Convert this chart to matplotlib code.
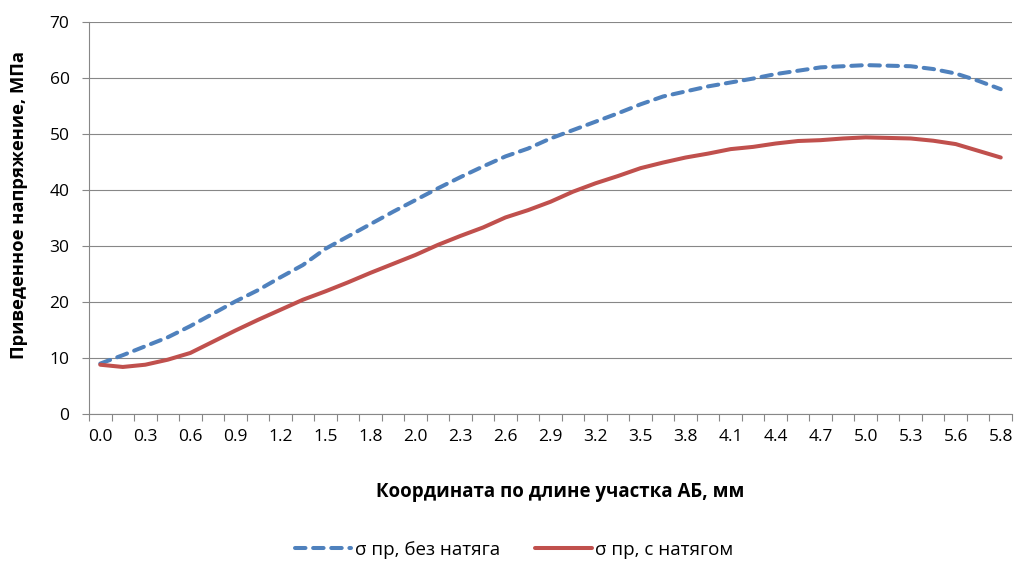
import matplotlib
matplotlib.use('Agg')
import matplotlib.pyplot as plt
import numpy as np

plt.rcParams['font.family'] = ['Open Sans', 'DejaVu Sans']

# координата по длине участка АБ (подписаны только чётные категории)
x_labels = ['0.0', '0.3', '0.6', '0.9', '1.2', '1.5', '1.8', '2.0', '2.3', '2.6', '2.9',
            '3.2', '3.5', '3.8', '4.1', '4.4', '4.7', '5.0', '5.3', '5.6', '5.8']

# приведенное напряжение, МПа
sigma_free = [9.0, 10.5, 12.1, 13.7, 15.7, 17.9, 20.1, 22.1, 24.4, 26.6, 29.5,
              31.7, 33.9, 36.1, 38.2, 40.3, 42.3, 44.2, 46.0, 47.4, 49.2,
              50.7, 52.2, 53.7, 55.3, 56.7, 57.6, 58.5, 59.2, 59.9, 60.7,
              61.3, 61.9, 62.1, 62.3, 62.2, 62.1, 61.6, 60.8, 59.5, 58.0]
sigma_fit = [8.8, 8.4, 8.8, 9.7, 10.9, 12.9, 14.9, 16.8, 18.6, 20.4, 21.9,
             23.5, 25.2, 26.8, 28.4, 30.2, 31.8, 33.3, 35.1, 36.4, 37.9,
             39.7, 41.2, 42.5, 43.9, 44.9, 45.8, 46.5, 47.3, 47.7, 48.3,
             48.75, 48.9, 49.2, 49.4, 49.3, 49.2, 48.8, 48.2, 47.0, 45.8]

series_names = ['σ пр, без натяга', 'σ пр, с натягом']

grey = '#878787'
idx = np.arange(len(sigma_free))

fig = plt.figure(figsize=(10.16, 5.62), dpi=100)
ax = fig.add_axes([89 / 1016, 1 - 414 / 562, (1012 - 89) / 1016, (414 - 22) / 562])

ax.plot(idx, sigma_free, color='#4F81BD', lw=2.9, dashes=(2.6, 1.9),
        dash_capstyle='round', label=series_names[0], zorder=3)
ax.plot(idx, sigma_fit, color='#C0504D', lw=2.9, solid_capstyle='round',
        label=series_names[1], zorder=3)

ax.set_xlim(-0.5, len(idx) - 0.5)
ax.set_ylim(0, 70)
ax.set_yticks(np.arange(0, 71, 10))
ax.grid(axis='y', color=grey, lw=0.8)
ax.set_axisbelow(True)

ax.set_xticks(idx[::2])
ax.set_xticklabels(x_labels)
ax.set_xticks(np.arange(-0.5, len(idx)), minor=True)
ax.tick_params(axis='x', which='major', length=0, pad=11, labelsize=12.5, colors='#000000')
ax.tick_params(axis='x', which='minor', length=5, width=0.8, color=grey)
ax.tick_params(axis='y', length=5, width=0.8, color=grey, pad=9, labelsize=12.5)

for s in ['top', 'right']:
    ax.spines[s].set_visible(False)
for s in ['left', 'bottom']:
    ax.spines[s].set_color(grey)
    ax.spines[s].set_linewidth(0.8)

fig.text(19 / 1016, 1 - 205 / 562, 'Приведенное напряжение, МПа', rotation=90,
         ha='center', va='center', fontsize=13.2, fontweight='bold')
fig.text(560 / 1016, 1 - 492 / 562, 'Координата по длине участка АБ, мм',
         ha='center', va='center', fontsize=13.5, fontweight='bold')

fig.legend(loc='center', bbox_to_anchor=(514 / 1016, 1 - 550 / 562), ncol=2,
           frameon=False, fontsize=13.5, handlelength=3.0, handletextpad=0.2,
           columnspacing=1.9)

fig.savefig('out.png', dpi=100)
